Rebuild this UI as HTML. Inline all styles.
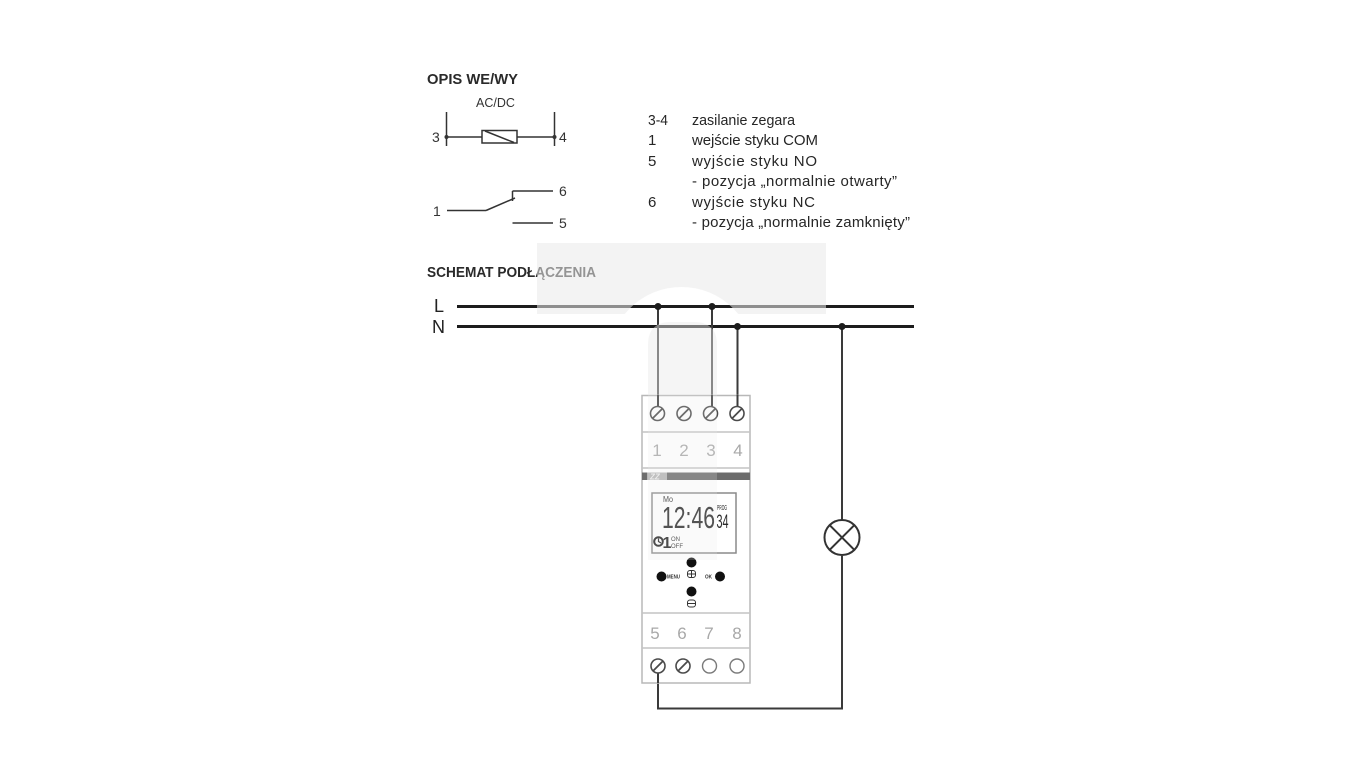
<!DOCTYPE html>
<html><head><meta charset="utf-8"><style>
html,body{margin:0;padding:0;background:#fff;}
svg{display:block;}
text{font-family:"Liberation Sans",sans-serif;}
</style></head><body>
<svg width="1360" height="768" viewBox="0 0 1360 768" xmlns="http://www.w3.org/2000/svg">
<defs>
<mask id="wm">
<rect x="0" y="0" width="1360" height="768" fill="#fff"/>
<circle cx="681.5" cy="360" r="73" fill="#000"/>
</mask>
</defs>
<rect width="1360" height="768" fill="#fff"/>

<!-- OPIS WE/WY -->
<text x="427" y="84" font-size="15" font-weight="bold" fill="#2a2a2a" textLength="91" lengthAdjust="spacingAndGlyphs">OPIS WE/WY</text>
<text x="476" y="107" font-size="12.5" fill="#333">AC/DC</text>

<g stroke="#333" stroke-width="1.5" fill="none">
<line x1="446.5" y1="112" x2="446.5" y2="146"/>
<line x1="554.5" y1="112" x2="554.5" y2="146"/>
<line x1="446.5" y1="137" x2="482" y2="137"/>
<line x1="517" y1="137" x2="554.5" y2="137"/>
<rect x="482" y="130.5" width="35" height="12.5"/>
<line x1="485" y1="131" x2="514" y2="142.5"/>
<line x1="447" y1="210.5" x2="486" y2="210.5"/>
<line x1="486" y1="210.5" x2="515" y2="198"/>
<line x1="512.5" y1="191" x2="512.5" y2="201"/>
<line x1="512.5" y1="191" x2="553" y2="191"/>
<line x1="512.5" y1="223" x2="553" y2="223"/>
</g>
<circle cx="446.5" cy="137" r="2" fill="#333"/>
<circle cx="554.5" cy="137" r="2" fill="#333"/>
<g font-size="14" fill="#333">
<text x="432" y="142">3</text>
<text x="559" y="142">4</text>
<text x="433" y="216">1</text>
<text x="559" y="196">6</text>
<text x="559" y="228">5</text>
</g>

<!-- legend -->
<g font-size="15" fill="#262626">
<text x="648" y="125" textLength="20" lengthAdjust="spacingAndGlyphs">3-4</text><text x="692" y="125" textLength="103" lengthAdjust="spacingAndGlyphs">zasilanie zegara</text>
<text x="648" y="145">1</text><text x="692" y="145" textLength="126" lengthAdjust="spacing">wejście styku COM</text>
<text x="648" y="166">5</text><text x="692" y="166" textLength="125" lengthAdjust="spacing">wyjście styku NO</text>
<text x="692" y="186" textLength="205" lengthAdjust="spacing">- pozycja „normalnie otwarty”</text>
<text x="648" y="207">6</text><text x="692" y="207" textLength="123" lengthAdjust="spacing">wyjście styku NC</text>
<text x="692" y="227" textLength="218" lengthAdjust="spacing">- pozycja „normalnie zamknięty”</text>
</g>

<!-- SCHEMAT -->
<text x="427" y="277" font-size="14.5" font-weight="bold" fill="#2a2a2a" textLength="169" lengthAdjust="spacingAndGlyphs">SCHEMAT PODŁĄCZENIA</text>
<text x="434" y="312" font-size="18" fill="#222">L</text>
<text x="432" y="333" font-size="18" fill="#222">N</text>

<!-- mains -->
<line x1="457" y1="306.5" x2="914" y2="306.5" stroke="#1c1c1c" stroke-width="3"/>
<line x1="457" y1="326.5" x2="914" y2="326.5" stroke="#1c1c1c" stroke-width="3"/>

<!-- wires -->
<g stroke="#3a3a3a" stroke-width="2" fill="none">
<line x1="658" y1="306" x2="658" y2="413"/>
<line x1="712" y1="306" x2="712" y2="413"/>
<line x1="737.5" y1="326" x2="737.5" y2="413"/>
<line x1="842" y1="326" x2="842" y2="520"/>
<polyline points="842,556 842,708.5 658,708.5 658,666"/>
</g>
<g fill="#1c1c1c">
<circle cx="658" cy="306.5" r="3.5"/>
<circle cx="712" cy="306.5" r="3.5"/>
<circle cx="737.5" cy="326.5" r="3.5"/>
<circle cx="842" cy="326.5" r="3.5"/>
</g>

<!-- lamp -->
<g stroke="#333" stroke-width="2" fill="#fff">
<circle cx="842" cy="537.5" r="17.5"/>
<line x1="829.6" y1="525.1" x2="854.4" y2="549.9"/>
<line x1="854.4" y1="525.1" x2="829.6" y2="549.9"/>
</g>

<!-- device -->
<rect x="642" y="395.5" width="108" height="287.5" fill="#fff" stroke="#b8b8b8" stroke-width="1.5"/>
<g stroke="#c4c4c4" stroke-width="1.5">
<line x1="642" y1="432" x2="750" y2="432"/>
<line x1="642" y1="468" x2="750" y2="468"/>
<line x1="642" y1="613" x2="750" y2="613"/>
<line x1="642" y1="648" x2="750" y2="648"/>
</g>
<rect x="642" y="472.5" width="108" height="7.5" fill="#6c6c6c"/>
<rect x="647" y="472.5" width="20" height="7.5" fill="#b5b5b5"/>
<text x="650" y="479.5" font-size="8" font-style="italic" font-weight="bold" fill="#eee">ZZ</text>

<g stroke="#3a3a3a" stroke-width="2">
<line x1="658" y1="395" x2="658" y2="413"/>
<line x1="712" y1="395" x2="712" y2="413"/>
<line x1="737.5" y1="395" x2="737.5" y2="413"/>
<line x1="658" y1="666" x2="658" y2="683"/>
</g>

<g stroke="#4a4a4a" stroke-width="1.6" fill="#fff">
<circle cx="657.5" cy="413.5" r="7"/>
<circle cx="684" cy="413.5" r="7"/>
<circle cx="710.5" cy="413.5" r="7"/>
<circle cx="737" cy="413.5" r="7"/>
<circle cx="658" cy="666" r="7"/>
<circle cx="683" cy="666" r="7"/>
</g>
<g stroke="#4a4a4a" stroke-width="1.8">
<line x1="652.5" y1="418.5" x2="662.5" y2="408.5"/>
<line x1="679" y1="418.5" x2="689" y2="408.5"/>
<line x1="705.5" y1="418.5" x2="715.5" y2="408.5"/>
<line x1="732" y1="418.5" x2="742" y2="408.5"/>
<line x1="653" y1="671" x2="663" y2="661"/>
<line x1="678" y1="671" x2="688" y2="661"/>
</g>
<g stroke="#7a7a7a" stroke-width="1.4" fill="#fff">
<circle cx="709.5" cy="666" r="7"/>
<circle cx="737" cy="666" r="7"/>
</g>

<g font-size="17" fill="#a8a8a8" text-anchor="middle">
<text x="657" y="456">1</text>
<text x="684" y="456">2</text>
<text x="711" y="456">3</text>
<text x="738" y="456">4</text>
<text x="655" y="639">5</text>
<text x="682" y="639">6</text>
<text x="709" y="639">7</text>
<text x="737" y="639">8</text>
</g>

<!-- LCD -->
<rect x="652" y="493" width="84" height="60" fill="#fff" stroke="#8a8a8a" stroke-width="1.5"/>
<text x="663" y="502" font-size="8" fill="#333" textLength="10" lengthAdjust="spacingAndGlyphs">Mo</text>
<text x="662" y="528" font-size="31" fill="#2a2a2a" textLength="53" lengthAdjust="spacingAndGlyphs">12:46</text>
<text x="717" y="510" font-size="7" fill="#2a2a2a" textLength="10" lengthAdjust="spacingAndGlyphs">PROG</text>
<text x="716.5" y="528" font-size="19" fill="#2a2a2a" textLength="12" lengthAdjust="spacingAndGlyphs">34</text>
<circle cx="658.5" cy="541.5" r="4.3" fill="none" stroke="#222" stroke-width="2"/>
<polyline points="658.5,538.5 658.5,541.5 661,543" fill="none" stroke="#222" stroke-width="1.2"/>
<text x="662.5" y="548" font-size="16" font-weight="bold" fill="#222">1</text>
<text x="671" y="541" font-size="6" fill="#333">ON</text>
<text x="671" y="548" font-size="6" fill="#333">OFF</text>

<g fill="#111">
<circle cx="691.5" cy="562.5" r="5"/>
<circle cx="661.5" cy="576.5" r="5"/>
<circle cx="720" cy="576.5" r="5"/>
<circle cx="691.5" cy="591.5" r="5"/>
</g>
<g stroke="#333" stroke-width="1" fill="none">
<rect x="687.5" y="570.5" width="8" height="7" rx="2.5"/>
<line x1="687.5" y1="574" x2="695.5" y2="574"/>
<line x1="691.5" y1="570.5" x2="691.5" y2="577.5"/>
<rect x="687.5" y="600" width="8" height="7" rx="2.5"/>
<line x1="687.5" y1="603.5" x2="695.5" y2="603.5"/>
</g>
<text x="667" y="578.5" font-size="5" font-weight="bold" fill="#333" textLength="13" lengthAdjust="spacingAndGlyphs">MENU</text>
<text x="705" y="578.5" font-size="5" font-weight="bold" fill="#333" textLength="7" lengthAdjust="spacingAndGlyphs">OK</text>

<!-- watermark overlay -->
<rect x="537" y="243" width="289" height="71" fill="#ebebeb" opacity="0.55" mask="url(#wm)"/>
<path d="M648,345 Q648,322 671,322 L694,322 Q717,322 717,345 L717,395 L648,395 Z" fill="#e9e9e9" opacity="0.45"/>
<rect x="648" y="395" width="69" height="165" fill="#e9e9e9" opacity="0.22"/>
</svg>
</body></html>
